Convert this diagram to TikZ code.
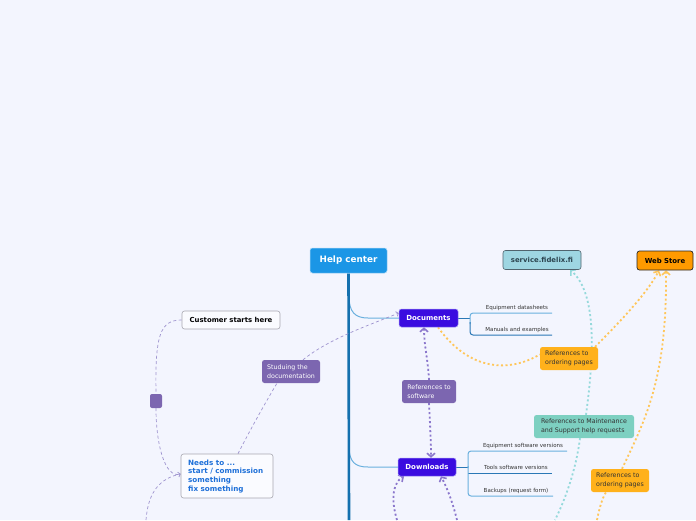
\documentclass[tikz,border=0pt]{standalone}
\usepackage{fontspec}
\setmainfont{DejaVu Sans}
\usetikzlibrary{arrows.meta}
\pgfdeclarelayer{bg}
\pgfsetlayers{bg,main}
\definecolor{bgc}{HTML}{F3F5FE}
\definecolor{helpblue}{HTML}{1B96E6}
\definecolor{trunkc}{HTML}{1470AE}
\definecolor{branchc}{HTML}{6AB0DE}
\definecolor{branchd}{HTML}{2A78B6}
\definecolor{docfill}{HTML}{3A0CE0}
\definecolor{docline}{HTML}{9B8CF2}
\definecolor{purp}{HTML}{7C66B0}
\definecolor{purpdot}{HTML}{8B77CC}
\definecolor{dashc}{HTML}{9E94CF}
\definecolor{orgdot}{HTML}{FFC65A}
\definecolor{orgbox}{HTML}{FFB11B}
\definecolor{tealbox}{HTML}{7DD0C1}
\definecolor{tealdot}{HTML}{95D9DB}
\definecolor{svcfill}{HTML}{9ED6E2}
\definecolor{svcline}{HTML}{50646E}
\definecolor{svctext}{HTML}{2C4550}
\definecolor{webfill}{HTML}{FF9A00}
\definecolor{needtext}{HTML}{1D6FD8}
\definecolor{greyline}{HTML}{A8A8B0}
\definecolor{subtext}{HTML}{333333}
\begin{document}
\begin{tikzpicture}[x=1pt,y=-1pt,
  box/.style={rounded corners=2.5pt, inner sep=0pt, align=center},
  mainbox/.style={box, fill=docfill, draw=docline, line width=0.5pt, text=white,
     font=\fontsize{7}{8}\selectfont\bfseries, minimum width=58pt, minimum height=18pt},
  notebox/.style={box, align=left, font=\fontsize{6.3}{8.7}\selectfont, minimum height=23pt},
  subitem/.style={anchor=base, font=\fontsize{5.5}{6.5}\selectfont, text=subtext, inner sep=0pt},
  dashconn/.style={draw=dashc, line width=0.7pt, dash pattern=on 3pt off 2.5pt},
  dotconn/.style={line width=1.8pt, dash pattern=on 2pt off 2.5pt},
  barb/.style={-{Straight Barb[length=3.5pt,width=8pt,line width=1.6pt]}},
  smallbarb/.style={-{Straight Barb[length=2pt,width=5pt,line width=0.8pt]}}
]
\useasboundingbox (0,0) rectangle (696,520);

% nodes
\node[box, fill=helpblue, draw=white!60!helpblue, line width=0.5pt, text=white,
  font=\fontsize{8.8}{10}\selectfont\bfseries, minimum width=77pt, minimum height=25pt]
  (hc) at (348.5,260.5) {Help center};
\node[mainbox, minimum width=59pt] (doc) at (428.5,318) {Documents};
\node[mainbox] (dl) at (427,467) {Downloads};
\node[box, fill=svcfill, draw=svcline, line width=0.6pt, text=svctext,
  font=\fontsize{6.9}{8}\selectfont\bfseries, minimum width=78pt, minimum height=19pt]
  (svc) at (542,260) {service.fidelix.fi};
\node[box, fill=webfill, draw=black!85, line width=0.7pt, text=black,
  font=\fontsize{6.9}{8}\selectfont\bfseries, minimum width=56pt, minimum height=19pt]
  (web) at (665,260.5) {Web Store};
\node[box, fill=white!60!bgc, draw=greyline, line width=0.6pt, text=black,
  font=\fontsize{6.9}{8}\selectfont\bfseries, minimum width=98pt, minimum height=18pt]
  (cust) at (231,320) {Customer starts here};
\node[box, rounded corners=2pt, fill=purp, minimum width=12pt, minimum height=14pt] (sq) at (156,401) {};
\node[box, fill=white!60!bgc, draw=greyline, line width=0.6pt, minimum width=92pt, minimum height=44pt]
  (needs) at (227,476) {};
\node[anchor=north west, inner sep=0pt, align=left, text=needtext,
  font=\fontsize{7.2}{8.7}\selectfont\bfseries] (needstxt) at (188,459.5)
  {Needs to ...\\start / commission\\something\\fix something};
\node[notebox, fill=purp, text=white, minimum width=58pt] (stud) at (291,371.5) {Studuing the\\documentation};
\node[notebox, fill=purp, text=white, minimum width=54pt] (refsw) at (429,391.5) {References to\\software};
\node[notebox, fill=orgbox, text=subtext, minimum width=58pt] (ref1) at (569,358.5) {References to\\ordering pages};
\node[notebox, fill=tealbox, text=subtext, minimum width=100pt] (maint) at (584,426.5) {References to Maintenance\\and Support help requests};
\node[notebox, fill=orgbox, text=subtext, minimum width=58pt] (ref2) at (620,480.5) {References to\\ordering pages};

% sub items
\node[subitem] (t1) at (517,309.5) {Equipment datasheets};
\node[subitem] (t2) at (517,331) {Manuals and examples};
\node[subitem] (t3) at (523,447) {Equipment software versions};
\node[subitem] (t4) at (516,469) {Tools software versions};
\node[subitem] (t5) at (516,492) {Backups (request form)};

\coordinate (bot) at (349,520);
\coordinate (b1) at (146,520);
\coordinate (b2) at (397,520);
\coordinate (b3) at (457,520);
\coordinate (b4) at (555,520);
\coordinate (b5) at (597,520);

\begin{pgfonlayer}{bg}
\fill[bgc] (0,0) rectangle (696,520);

% trunk and branches
\draw[branchc, line width=1pt] (349,296) .. controls (349,312) and (355,318) .. (368,318) -- (doc.west);
\draw[branchc, line width=1pt] (349,446) .. controls (349,462) and (355,467) .. (368,467) -- (dl.west);
\draw[trunkc, line width=2.6pt] (hc.south) -- (bot);

% document sub bracket
\draw[branchd, line width=1pt] (doc.east) -- (470,318);
\draw[branchc, line width=1pt, rounded corners=3pt] (552,313) -- (470,313) -- (470,324);
\draw[branchd, line width=1pt, rounded corners=3pt] (470,322) -- (470,335) -- (552,335);
% downloads sub bracket
\draw[branchd, line width=1pt] (dl.east) -- (468,467);
\draw[branchc, line width=1pt, rounded corners=3pt] (567,451) -- (468,451) -- (468,468);
\draw[branchd, line width=1pt] (468,473) -- (552,473);
\draw[branchc, line width=1pt, rounded corners=3pt] (468,466) -- (468,496) -- (553,496);

% dashed customer flow
\draw[dashconn] (cust.west) .. controls (160,320) and (155,335) .. (sq.north);
\draw[dashconn, smallbarb] (sq.south) .. controls (156,445) and (165,478) .. ([yshift=2pt]needs.west);
\draw[dashconn] (b1) .. controls (148,492) and (160,478) .. ([yshift=2pt]needs.west);
\draw[dashconn] ([xshift=11pt]needs.north) .. controls (250,430) and (268,398) .. ([xshift=-14pt]stud.south);
\draw[dashconn, smallbarb] ([xshift=12pt]stud.north) .. controls (330,338) and (370,325) .. ([yshift=5pt]doc.west);

% purple dotted
\draw[purpdot, dotconn, barb] (refsw.north) .. controls (428,360) and (424,345) .. ([xshift=-4.5pt]doc.south);
\draw[purpdot, dotconn, barb] (refsw.south) .. controls (430,425) and (431,440) .. ([xshift=4pt]dl.north);
\draw[purpdot, dotconn, barb] (b2) .. controls (390,497) and (394,482) .. ([xshift=-23pt]dl.south);
\draw[purpdot, dotconn, barb] (b3) .. controls (452,500) and (447,488) .. ([xshift=14pt]dl.south);

% teal dotted
\draw[tealdot, dotconn, barb] ([xshift=2pt]maint.north) .. controls (592,370) and (600,295) .. ([xshift=28pt]svc.south);
\draw[tealdot, dotconn] ([xshift=-4pt]maint.south) .. controls (576,470) and (565,500) .. (b4);

% orange dotted
\draw[orgdot, dotconn] ([xshift=9.5pt]doc.south) .. controls (470,372) and (510,372) .. ([yshift=4pt]ref1.west);
\draw[orgdot, dotconn, barb] ([xshift=26pt]ref1.north) .. controls (620,322) and (648,292) .. ([xshift=-6pt]web.south);
\draw[orgdot, dotconn] (b5) .. controls (600,505) and (603,497) .. ([xshift=-14pt]ref2.south);
\draw[orgdot, dotconn, barb] ([xshift=2pt]ref2.north) .. controls (645,420) and (667,380) .. ([xshift=1pt]web.south);
\end{pgfonlayer}
\end{tikzpicture}
\end{document}
